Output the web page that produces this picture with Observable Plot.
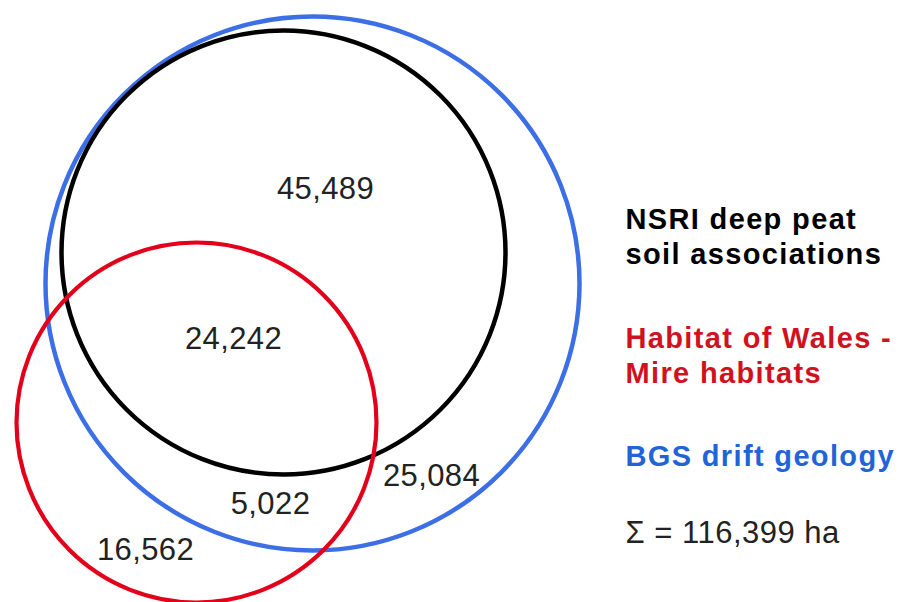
<!DOCTYPE html>
<html>
<head>
<meta charset="utf-8">
<script src="https://cdn.jsdelivr.net/npm/d3@7"></script>
<script src="https://cdn.jsdelivr.net/npm/@observablehq/plot@0.6"></script>
<style>
  html, body { margin: 0; padding: 0; background: #fff; }
  #chart svg { display: block; }
</style>
</head>
<body>
<div id="chart"></div>
<script>
// ---- data ----
const setNames = ["NSRI deep peat\nsoil associations", "Habitat of Wales -\nMire habitats", "BGS drift geology"];
const regionValues = [45489, 24242, 25084, 5022, 16562];
const totalHa = 116399;

// ---- layout (pixel geometry of the Venn diagram) ----
const circleLayout = [
  {set: 2, cx: 312, cy: 283, r: 267, color: "#3c6ee6", sw: 4.5},
  {set: 0, cx: 283, cy: 252, r: 222, color: "#000000", sw: 4.5},
  {set: 1, cx: 196, cy: 422, r: 180, color: "#e3001a", sw: 4.2}
];
const regionPos = [[325, 198], [233, 348], [431, 485], [270, 513], [145, 559]];
const legendPos = [[625, 263], [625, 382], [625, 465]];
const legendColors = ["#000000", "#d0121e", "#2264d8"];
const totalPos = [625, 542];

const fmt = d3.format(",");
const regions = regionValues.map((v, i) => ({label: fmt(v), x: regionPos[i][0], y: regionPos[i][1]}));
const legend = setNames.map((n, i) => ({label: n, x: legendPos[i][0], y: legendPos[i][1], color: legendColors[i]}));
const total = [{label: "Σ = " + fmt(totalHa) + " ha", x: totalPos[0], y: totalPos[1]}];

const font = "Liberation Sans, Arial, Helvetica, sans-serif";

const chart = Plot.plot({
  width: 902,
  height: 602,
  margin: 0,
  x: {type: "identity", axis: null},
  y: {type: "identity", axis: null},
  r: {type: "identity"},
  style: {background: "#fff", fontFamily: font},
  marks: [
    Plot.dot(circleLayout, {x: "cx", y: "cy", r: "r", stroke: d => d.color, strokeWidth: d => d.sw, fill: "none"}),
    Plot.text(regions, {x: "x", y: "y", text: "label", fontSize: 31, fill: "#222", lineAnchor: "bottom", textAnchor: "middle", fontFamily: font}),
    Plot.text(legend, {x: "x", y: "y", text: "label", fontSize: 29, fontWeight: "bold", fill: d => d.color, textAnchor: "start", lineAnchor: "bottom", lineHeight: 1.2, fontFamily: font}),
    Plot.text(total, {x: "x", y: "y", text: "label", fontSize: 31, fill: "#222", textAnchor: "start", lineAnchor: "bottom", fontFamily: font})
  ]
});
const textGroups = chart.querySelectorAll('g[aria-label="text"]');
if (textGroups.length === 3) {
  textGroups[0].style.letterSpacing = "0.4px";
  textGroups[1].style.letterSpacing = "1.35px";
  textGroups[2].style.letterSpacing = "0.5px";
}
document.getElementById("chart").appendChild(chart);
</script>
</body>
</html>
